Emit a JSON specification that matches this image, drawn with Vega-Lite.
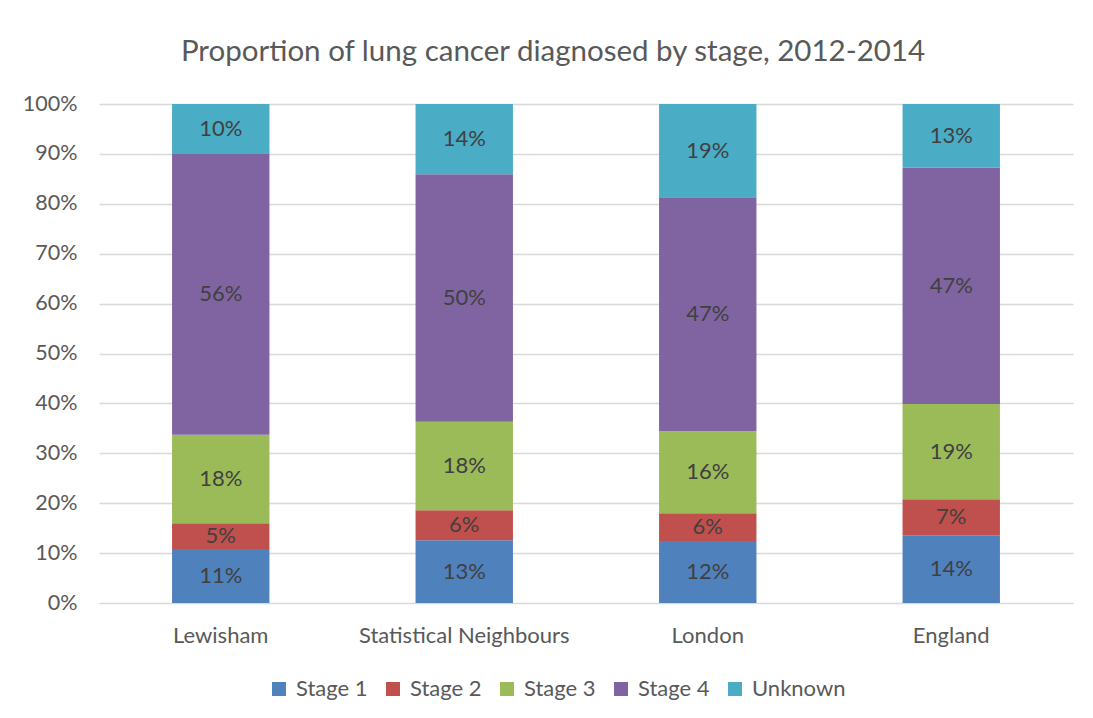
{
  "$schema": "https://vega.github.io/schema/vega-lite/v6.json",
  "autosize": {"type": "none"},
  "width": 974,
  "height": 499,
  "padding": {"left": 99, "top": 104, "right": 20, "bottom": 115},
  "background": "white",
  "title": {
    "text": "Proportion of lung cancer diagnosed by stage, 2012-2014",
    "font": "Lato",
    "fontSize": 29.5,
    "fontWeight": "normal",
    "color": "#595959",
    "anchor": "middle",
    "dx": -33,
    "baseline": "alphabetic",
    "offset": 3
  },
  "data": {
    "values": [
      {"area": "Lewisham", "stage": "Stage 1", "value": 0.108},
      {"area": "Lewisham", "stage": "Stage 2", "value": 0.052},
      {"area": "Lewisham", "stage": "Stage 3", "value": 0.177},
      {"area": "Lewisham", "stage": "Stage 4", "value": 0.563},
      {"area": "Lewisham", "stage": "Unknown", "value": 0.100},
      {"area": "Statistical Neighbours", "stage": "Stage 1", "value": 0.126},
      {"area": "Statistical Neighbours", "stage": "Stage 2", "value": 0.060},
      {"area": "Statistical Neighbours", "stage": "Stage 3", "value": 0.177},
      {"area": "Statistical Neighbours", "stage": "Stage 4", "value": 0.496},
      {"area": "Statistical Neighbours", "stage": "Unknown", "value": 0.141},
      {"area": "London", "stage": "Stage 1", "value": 0.124},
      {"area": "London", "stage": "Stage 2", "value": 0.056},
      {"area": "London", "stage": "Stage 3", "value": 0.164},
      {"area": "London", "stage": "Stage 4", "value": 0.469},
      {"area": "London", "stage": "Unknown", "value": 0.187},
      {"area": "England", "stage": "Stage 1", "value": 0.136},
      {"area": "England", "stage": "Stage 2", "value": 0.072},
      {"area": "England", "stage": "Stage 3", "value": 0.191},
      {"area": "England", "stage": "Stage 4", "value": 0.473},
      {"area": "England", "stage": "Unknown", "value": 0.128}
    ]
  },
  "encoding": {
    "x": {
      "field": "area",
      "type": "nominal",
      "sort": ["Lewisham", "Statistical Neighbours", "London", "England"],
      "scale": {"paddingInner": 0.6, "paddingOuter": 0.3},
      "axis": {
        "title": null,
        "labelAngle": 0,
        "labelFont": "Lato",
        "labelFontSize": 22,
        "labelColor": "#595959",
        "labelPadding": 22,
        "labelLimit": 400,
        "ticks": false,
        "domain": true,
        "domainColor": "#D9D9D9",
        "domainWidth": 1
      }
    },
    "y": {
      "field": "value",
      "type": "quantitative",
      "stack": "zero",
      "scale": {"domain": [0, 1], "nice": false},
      "axis": {
        "title": null,
        "format": ".0%",
        "values": [0, 0.1, 0.2, 0.3, 0.4, 0.5, 0.6, 0.7, 0.8, 0.9, 1],
        "labelFont": "Lato",
        "labelFontSize": 21.5,
        "labelColor": "#595959",
        "labelPadding": 22,
        "ticks": false,
        "domain": false,
        "grid": true,
        "gridColor": "#D9D9D9",
        "gridWidth": 1.5
      }
    }
  },
  "layer": [
    {
      "mark": {"type": "bar"},
      "encoding": {
        "color": {
          "field": "stage",
          "type": "nominal",
          "scale": {
            "domain": ["Stage 1", "Stage 2", "Stage 3", "Stage 4", "Unknown"],
            "range": ["#4F81BD", "#C0504D", "#9BBB59", "#8064A2", "#4BACC6"]
          },
          "legend": {
            "title": null,
            "orient": "none",
            "legendX": 169,
            "legendY": 574,
            "direction": "horizontal",
            "symbolType": "square",
            "symbolSize": 196,
            "symbolStrokeWidth": 0,
            "labelFont": "Lato",
            "labelFontSize": 22,
            "labelColor": "#595959",
            "labelOffset": 6,
            "columnPadding": 14
          }
        },
        "order": {"field": "stage", "sort": "ascending"}
      }
    },
    {
      "mark": {"type": "text", "font": "Lato", "fontSize": 22, "color": "#404040", "baseline": "middle"},
      "encoding": {
        "y": {"field": "value", "type": "quantitative", "stack": "zero", "bandPosition": 0.5},
        "detail": {"field": "stage"},
        "order": {"field": "stage", "sort": "ascending"},
        "text": {"field": "value", "type": "quantitative", "format": ".0%"}
      }
    }
  ],
  "config": {"view": {"stroke": null}}
}
